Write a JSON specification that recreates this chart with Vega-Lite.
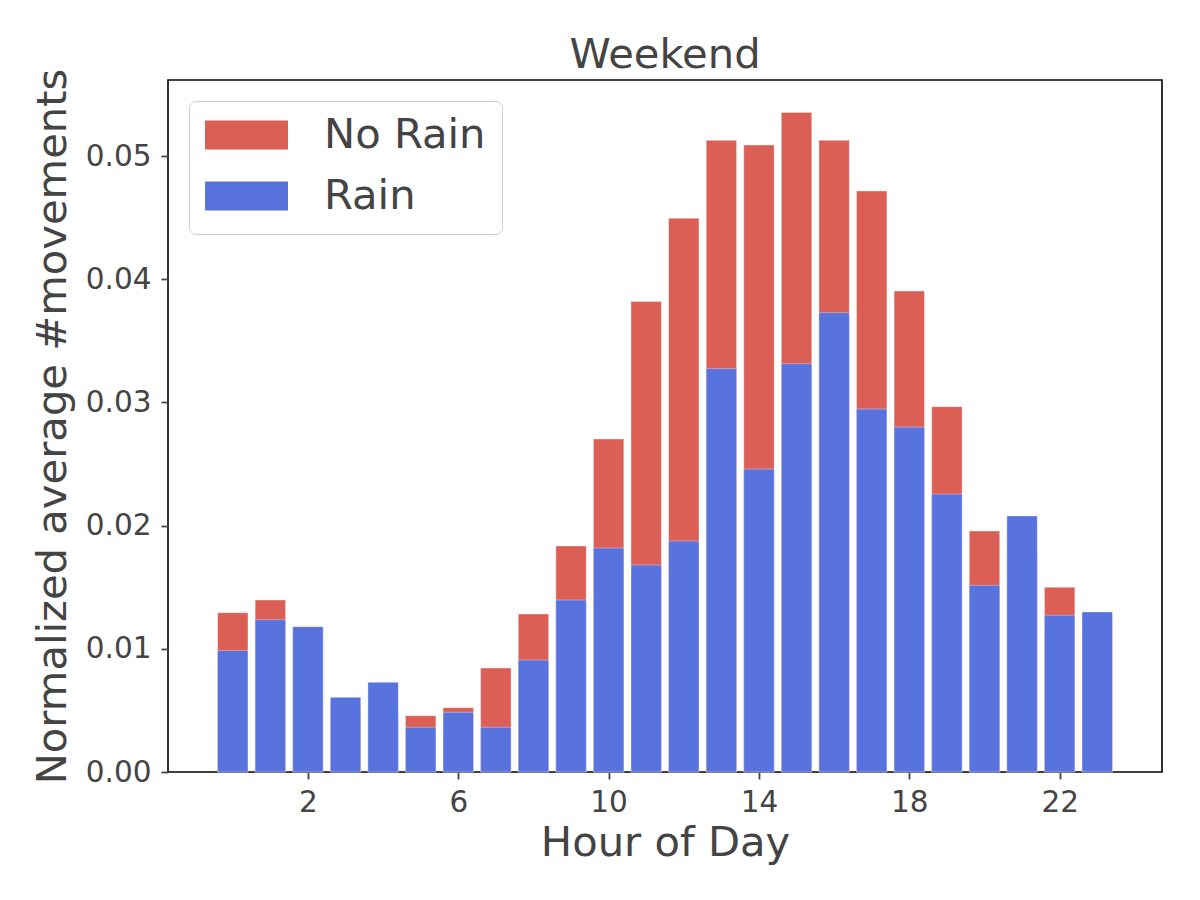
{
  "$schema": "https://vega.github.io/schema/vega-lite/v6.json",
  "width": 994,
  "height": 692,
  "autosize": "none",
  "padding": {"left": 168, "top": 80, "right": 38, "bottom": 128},
  "background": "white",
  "title": {
    "text": "Weekend",
    "frame": "group",
    "anchor": "middle",
    "baseline": "alphabetic",
    "offset": -42,
    "font": "DejaVu Sans",
    "fontSize": 41.7,
    "fontWeight": "normal",
    "color": "#444444"
  },
  "data": {
    "values": [
      {"hour": 0, "rain": "No Rain", "value": 0.01293},
      {"hour": 1, "rain": "No Rain", "value": 0.01396},
      {"hour": 2, "rain": "No Rain", "value": 0.0115},
      {"hour": 3, "rain": "No Rain", "value": 0.0055},
      {"hour": 4, "rain": "No Rain", "value": 0.00468},
      {"hour": 5, "rain": "No Rain", "value": 0.00457},
      {"hour": 6, "rain": "No Rain", "value": 0.00522},
      {"hour": 7, "rain": "No Rain", "value": 0.00844},
      {"hour": 8, "rain": "No Rain", "value": 0.01282},
      {"hour": 9, "rain": "No Rain", "value": 0.01834},
      {"hour": 10, "rain": "No Rain", "value": 0.02703},
      {"hour": 11, "rain": "No Rain", "value": 0.0382},
      {"hour": 12, "rain": "No Rain", "value": 0.04494},
      {"hour": 13, "rain": "No Rain", "value": 0.05127},
      {"hour": 14, "rain": "No Rain", "value": 0.05089},
      {"hour": 15, "rain": "No Rain", "value": 0.05354},
      {"hour": 16, "rain": "No Rain", "value": 0.05127},
      {"hour": 17, "rain": "No Rain", "value": 0.04716},
      {"hour": 18, "rain": "No Rain", "value": 0.03904},
      {"hour": 19, "rain": "No Rain", "value": 0.02965},
      {"hour": 20, "rain": "No Rain", "value": 0.01956},
      {"hour": 21, "rain": "No Rain", "value": 0.01769},
      {"hour": 22, "rain": "No Rain", "value": 0.01499},
      {"hour": 23, "rain": "No Rain", "value": 0.01228},
      {"hour": 0, "rain": "Rain", "value": 0.00985},
      {"hour": 1, "rain": "Rain", "value": 0.01236},
      {"hour": 2, "rain": "Rain", "value": 0.0118},
      {"hour": 3, "rain": "Rain", "value": 0.00606},
      {"hour": 4, "rain": "Rain", "value": 0.00728},
      {"hour": 5, "rain": "Rain", "value": 0.00363},
      {"hour": 6, "rain": "Rain", "value": 0.00484},
      {"hour": 7, "rain": "Rain", "value": 0.00363},
      {"hour": 8, "rain": "Rain", "value": 0.00909},
      {"hour": 9, "rain": "Rain", "value": 0.01396},
      {"hour": 10, "rain": "Rain", "value": 0.01818},
      {"hour": 11, "rain": "Rain", "value": 0.0168},
      {"hour": 12, "rain": "Rain", "value": 0.01875},
      {"hour": 13, "rain": "Rain", "value": 0.03274},
      {"hour": 14, "rain": "Rain", "value": 0.02459},
      {"hour": 15, "rain": "Rain", "value": 0.03314},
      {"hour": 16, "rain": "Rain", "value": 0.03728},
      {"hour": 17, "rain": "Rain", "value": 0.02946},
      {"hour": 18, "rain": "Rain", "value": 0.028},
      {"hour": 19, "rain": "Rain", "value": 0.02256},
      {"hour": 20, "rain": "Rain", "value": 0.01515},
      {"hour": 21, "rain": "Rain", "value": 0.02078},
      {"hour": 22, "rain": "Rain", "value": 0.01272},
      {"hour": 23, "rain": "Rain", "value": 0.01299}
    ]
  },
  "mark": {
    "type": "bar",
    "width": 30.4,
    "stroke": "white",
    "strokeOpacity": 0.35,
    "strokeWidth": 1
  },
  "encoding": {
    "x": {
      "field": "hour",
      "type": "quantitative",
      "title": "Hour of Day",
      "scale": {"domain": [-1.59, 24.59], "nice": false, "zero": false},
      "axis": {"values": [2, 6, 10, 14, 18, 22], "labelPadding": 9, "titlePadding": 6}
    },
    "y": {
      "field": "value",
      "type": "quantitative",
      "stack": null,
      "title": "Normalized average #movements",
      "scale": {"domain": [0, 0.05617], "nice": false},
      "axis": {
        "values": [0, 0.01, 0.02, 0.03, 0.04, 0.05],
        "format": ".2f",
        "labelPadding": 10,
        "titlePadding": 11
      }
    },
    "color": {
      "field": "rain",
      "type": "nominal",
      "title": null,
      "scale": {"domain": ["No Rain", "Rain"], "range": ["#DC5F56", "#5872DE"]},
      "legend": {
        "orient": "top-left",
        "offset": 21,
        "padding": 16,
        "strokeColor": "#cccccc",
        "fillColor": "white",
        "cornerRadius": 7,
        "symbolType": "M-1,-0.35L1,-0.35L1,0.35L-1,0.35Z",
        "symbolSize": 6889,
        "symbolStrokeWidth": 0,
        "symbolOpacity": 1,
        "labelFont": "DejaVu Sans",
        "labelFontSize": 41.7,
        "labelColor": "#444444",
        "labelOffset": 36,
        "labelLimit": 400,
        "clipHeight": 36,
        "rowPadding": 19
      }
    }
  },
  "config": {
    "view": {"stroke": "#000000", "strokeWidth": 1.6},
    "axis": {
      "grid": false,
      "domain": false,
      "ticks": true,
      "tickSize": 7,
      "tickWidth": 1.8,
      "tickColor": "#444444",
      "labelFont": "DejaVu Sans",
      "labelFontSize": 29.5,
      "labelColor": "#444444",
      "titleFont": "DejaVu Sans",
      "titleFontSize": 41.7,
      "titleFontWeight": "normal",
      "titleColor": "#444444"
    }
  }
}
